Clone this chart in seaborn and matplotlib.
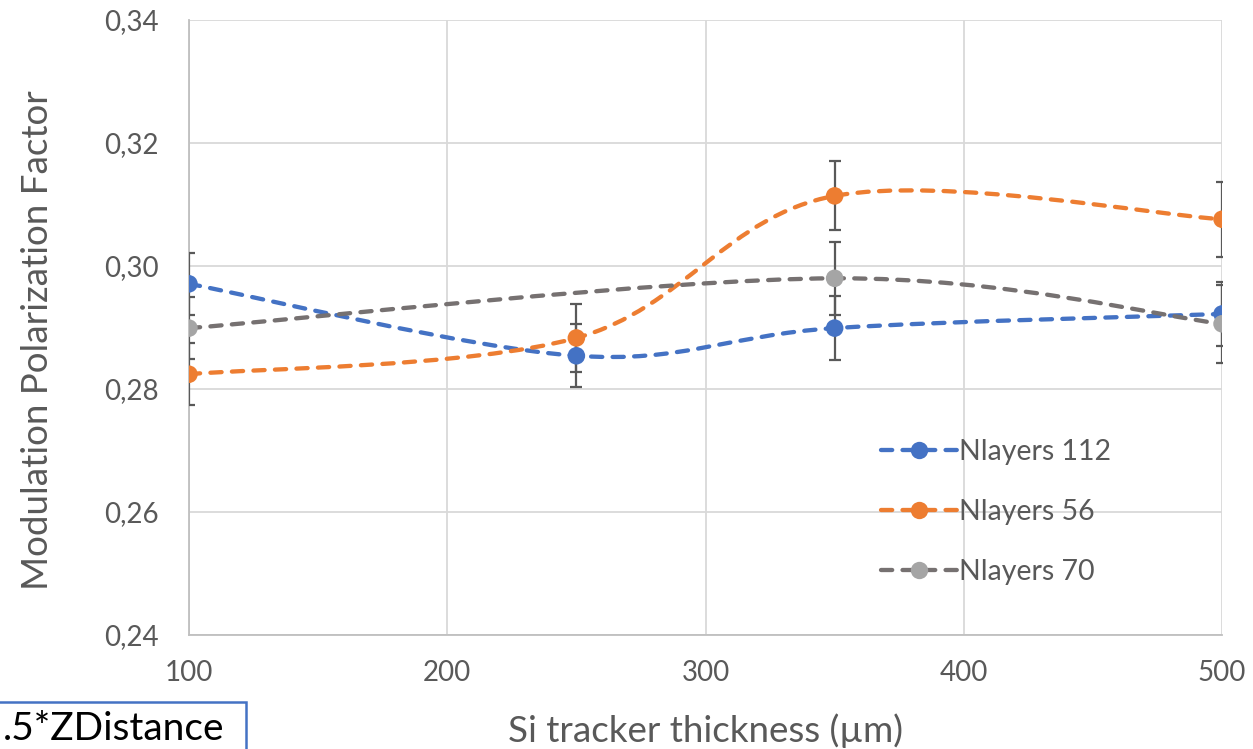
import matplotlib
matplotlib.use("Agg")
import matplotlib.pyplot as plt
import seaborn as sns
import pandas as pd
from matplotlib.path import Path
from matplotlib.patches import PathPatch, Rectangle
from matplotlib.lines import Line2D
from matplotlib.ticker import FuncFormatter

# Values
thickness = [100, 250, 350, 500]
mpf_112 = [0.2971, 0.2854, 0.2899, 0.2922]
err_112 = [0.0050, 0.0051, 0.0052, 0.0052]
mpf_56 = [0.2824, 0.2883, 0.3114, 0.3076]
err_56 = [0.0050, 0.0055, 0.0056, 0.0061]
thickness_70 = [100, 350, 500]
mpf_70 = [0.2899, 0.2980, 0.2906]
err_70 = [0.0050, 0.0059, 0.0063]

labels = ["Nlayers 112", "Nlayers 56", "Nlayers 70"]
line_colors = ["#4472C4", "#ED7D31", "#767171"]
marker_colors = ["#4472C4", "#ED7D31", "#A5A5A5"]

sns.set_theme(style="whitegrid")
plt.rcParams["font.family"] = ["Lato", "DejaVu Sans"]

fig = plt.figure(figsize=(12.53, 7.49), dpi=100)
ax = fig.add_axes([0.1508, 0.1522, 0.8245, 0.8211])

dash = (0, (2.6, 2.4))
lw = 3.1


def smooth_path(xs, ys):
    # Excel-style smoothed line: cubic Bezier segments (Catmull-Rom control points)
    pts = list(zip(xs, ys))
    verts = [pts[0]]
    codes = [Path.MOVETO]
    n = len(pts)
    for i in range(n - 1):
        p0 = pts[i - 1] if i > 0 else pts[i]
        p1 = pts[i]
        p2 = pts[i + 1]
        p3 = pts[i + 2] if i + 2 < n else pts[i + 1]
        c1 = (p1[0] + (p2[0] - p0[0]) / 6, p1[1] + (p2[1] - p0[1]) / 6)
        c2 = (p2[0] - (p3[0] - p1[0]) / 6, p2[1] - (p3[1] - p1[1]) / 6)
        verts += [c1, c2, p2]
        codes += [Path.CURVE4] * 3
    return Path(verts, codes)


series = [
    (thickness, mpf_112, err_112),
    (thickness, mpf_56, err_56),
    (thickness_70, mpf_70, err_70),
]

for k, (xs, ys, es) in enumerate(series):
    patch = PathPatch(smooth_path(xs, ys), fill=False, edgecolor=line_colors[k],
                      lw=lw, linestyle=dash, capstyle="round", zorder=3 + k)
    ax.add_patch(patch)
    ax.errorbar(xs, ys, yerr=es, fmt="none", ecolor="#595959", elinewidth=1.6,
                capsize=4.3, capthick=1.6, zorder=6)
    df = pd.DataFrame({"x": xs, "y": ys})
    sns.scatterplot(data=df, x="x", y="y", ax=ax, s=160, color=marker_colors[k],
                    edgecolor="none", zorder=7 + k, legend=False)

ax.set_xlim(100, 500)
ax.set_ylim(0.24, 0.34)
ax.set_xticks([100, 200, 300, 400, 500])
ax.set_yticks([0.24, 0.26, 0.28, 0.30, 0.32, 0.34])
ax.yaxis.set_major_formatter(FuncFormatter(lambda v, p: f"{v:.2f}".replace(".", ",")))
ax.grid(True, color="#D9D9D9", lw=1.3)
for s in ["top", "right"]:
    ax.spines[s].set_visible(False)
for s in ["left", "bottom"]:
    ax.spines[s].set_color("#BFBFBF")
    ax.spines[s].set_linewidth(1.3)
ax.tick_params(axis="both", length=0, labelsize=20, colors="#595959")
ax.tick_params(axis="y", pad=22)
ax.tick_params(axis="x", pad=18)
ax.set_xlabel("Si tracker thickness (µm)", fontsize=26.5, color="#595959", labelpad=20)
ax.set_ylabel("Modulation Polarization Factor", fontsize=26.5, color="#595959")
ax.yaxis.set_label_coords(-0.1305, 0.48)

handles = [
    Line2D([], [], color=line_colors[k], lw=lw, linestyle=dash, marker="o",
           markersize=12.5, markerfacecolor=marker_colors[k], markeredgecolor="none",
           dash_capstyle="round")
    for k in range(3)
]
ax.legend(handles, labels, loc="upper left", bbox_to_anchor=(0.6823, 0.4486),
          bbox_transform=fig.transFigure, frameon=False, fontsize=20.5,
          handlelength=2.7, handletextpad=0.05, labelspacing=1.2,
          labelcolor="#595959")

# partially visible text box at the bottom-left corner
fig.patches.append(Rectangle((-5, -5), 251, 52, transform=None, fill=False,
                             edgecolor="#4472C4", lw=1.8))
fig.text(3 / 1253, 9 / 749, ".5*ZDistance", fontsize=28, color="#000000")

fig.savefig("out.png", dpi=100)
